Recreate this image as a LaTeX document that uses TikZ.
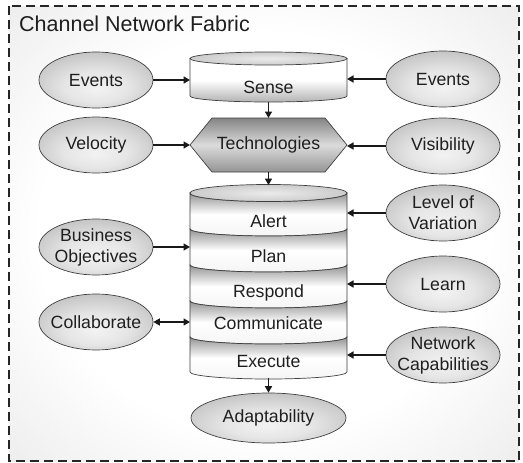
\documentclass[tikz,border=0pt]{standalone}
\usepackage{fontspec}
\setmainfont{Liberation Sans}
\usetikzlibrary{shapes.geometric,arrows.meta}
\pgfdeclareradialshading{bgshade}{\pgfpoint{0bp}{0bp}}{color(0bp)=(white); color(22bp)=(white); color(71bp)=(black!25)}
\pgfdeclareradialshading{ovalshade}{\pgfpoint{0bp}{-8bp}}{color(0bp)=(black!5); color(14bp)=(black!10); color(50bp)=(black!40); color(64bp)=(black!50)}
\pgfdeclareradialshading{lidshade}{\pgfpoint{0bp}{0bp}}{color(0bp)=(black!8); color(50bp)=(black!32)}
\begin{document}
\begin{tikzpicture}[x=1pt,y=-1pt,
  txt/.style={font=\fontsize{17.7}{21}\selectfont, text=black!88, align=center},
  oval/.style={txt, ellipse, draw=black!75, line width=0.7pt, shade, shading=ovalshade,
    minimum width=114pt, minimum height=56pt, inner xsep=-15pt, inner ysep=-8pt},
  arr/.style={line width=1.6pt, black!90, -{Triangle[length=6.5pt,width=7pt]}},
  darr/.style={line width=1.6pt, black!90, {Triangle[length=6.5pt,width=7pt]}-{Triangle[length=6.5pt,width=7pt]}},
  boxframe/.style={minimum width=157pt, inner sep=0pt, outer sep=0pt},
  outline/.style={draw=black!75, line width=0.7pt},
]
\useasboundingbox (0,0) rectangle (523,463);
\shade[shading=bgshade] (9,6) rectangle (519,461);
\draw[black!85, line width=1.3pt, dash pattern=on 9pt off 5pt] (9,6) rectangle (519,461);
\node[anchor=base west, inner sep=0pt, font=\fontsize{21.5}{24}\selectfont, text=black!88] (title) at (19,31) {Channel Network Fabric};

% Sense cylinder
\shadedraw[outline, top color=white, bottom color=black!30, middle color=white]
  (190,58.5) -- (190,96) arc[start angle=180, end angle=360, x radius=78.5pt, y radius=6pt] -- (347,58.5) -- cycle;
\shadedraw[outline, shading=lidshade] (268.5,58.5) ellipse[x radius=78.5pt, y radius=6.5pt];
\node[boxframe, minimum height=50pt] (sensebox) at (268.5,77) {};
\node[txt] (sense) at (268.5,87) {Sense};

% Technologies hexagon
\shadedraw[outline, top color=black!48, bottom color=black!42, middle color=black!14] (190,145) -- (212,118) -- (325,118) -- (347,145) -- (325,172) -- (212,172) -- cycle;
\node[txt, boxframe, minimum height=54pt] (tech) at (268.5,145) {Technologies};

% Stack cylinder
\foreach \a/\b/\r in {193/229/8.5, 229/265/7, 265/301/7, 301/337/7, 337/372/7}{
  \shadedraw[outline, top color=black!42, bottom color=black!4, middle color=white]
    (190,\a) arc[start angle=180, end angle=360, x radius=78.5pt, y radius=\r pt]
    -- (347,\b) arc[start angle=0, end angle=-180, x radius=78.5pt, y radius=7pt] -- cycle;
}
\shadedraw[outline, shading=lidshade] (268.5,193) ellipse[x radius=78.5pt, y radius=8.5pt];
\node[boxframe, minimum height=193pt] (stack) at (268.5,281.5) {};
\node[txt] (alert) at (268.5,221) {Alert};
\node[txt] (plan) at (268.5,256) {Plan};
\node[txt] (respond) at (268.5,293) {Respond};
\node[txt] (comm) at (268.5,323) {Communicate};
\node[txt] (exec) at (268.5,361) {Execute};

% Ovals
\node[oval] (evL) at (96,80) {Events};
\node[oval] (evR) at (443,79) {Events};
\node[oval] (vel) at (96,145) {Velocity};
\node[oval] (vis) at (443,146) {Visibility};
\node[oval] (lov) at (443,213) {Level of\\Variation};
\node[oval] (bus) at (96,247) {Business\\Objectives};
\node[oval] (learn) at (443,284) {Learn};
\node[oval] (coll) at (96,322) {Collaborate};
\node[oval] (net) at (443,355) {Network\\Capabilities};
\node[oval, minimum width=155pt, minimum height=50pt] (adapt) at (268.5,418) {Adaptability};

% Connectors
\draw[arr] (evL.east) -- (evL.east -| sensebox.west);
\draw[arr] (evR.west) -- (evR.west -| sensebox.east);
\draw[arr] (vel.east) -- (tech.west);
\draw[arr] (vis.west) -- (vis.west -| tech.east);
\draw[arr] (sensebox.south) -- (tech.north);
\draw[arr] (tech.south) -- (stack.north);
\draw[arr] (lov.west) -- (lov.west -| stack.east);
\draw[arr] (bus.east) -- (bus.east -| stack.west);
\draw[arr] (learn.west) -- (learn.west -| stack.east);
\draw[darr] (coll.east) -- (coll.east -| stack.west);
\draw[arr] (net.west) -- (net.west -| stack.east);
\draw[arr] (stack.south) -- (adapt.north);
\end{tikzpicture}
\end{document}
